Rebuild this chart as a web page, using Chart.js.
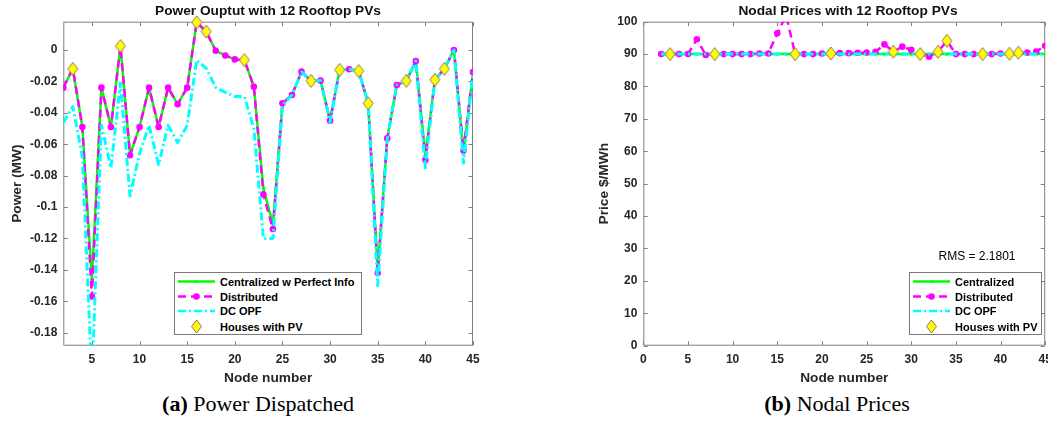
<!DOCTYPE html>
<html>
<head>
<meta charset="utf-8">
<script src="https://cdn.jsdelivr.net/npm/chart.js@4.4.1/dist/chart.umd.min.js"></script>
<style>
  html, body { margin: 0; padding: 0; width: 1048px; height: 425px; overflow: hidden; background: #fff; }
  canvas { position: absolute; top: 0; }
  .ttl { position: absolute; top: 3px; font: bold 13.7px "Liberation Sans", Arial, sans-serif; color: #111; white-space: nowrap; transform: translateX(-50%); line-height: 16px; }
  .cap { position: absolute; top: 391px; font: 22px "Liberation Serif", "Times New Roman", serif; color: #000; white-space: nowrap; transform: translateX(-50%); line-height: 26px; }
  .legend { position: absolute; box-sizing: border-box; border: 1px solid #7a7a7a; background: #fff; }
  .legend span { position: absolute; font: bold 11px "Liberation Sans", Arial, sans-serif; color: #000; white-space: nowrap; line-height: 14px; }
  .rms { position: absolute; font: 12px "Liberation Sans", Arial, sans-serif; color: #000; white-space: nowrap; transform: translate(-50%, -50%); line-height: 14px; }
</style>
</head>
<body>
<canvas id="c1" width="490" height="390" style="left:0px"></canvas>
<canvas id="c2" width="480" height="390" style="left:590px"></canvas>
<div class="ttl" style="left:268px">Power Ouptut with 12 Rooftop PVs</div>
<div class="ttl" style="left:848px">Nodal Prices with 12 Rooftop PVs</div>
<div class="rms" style="left:977px;top:256px">RMS = 2.1801</div>
<div class="cap" style="left:258px"><b>(a)</b> Power Dispatched</div>
<div class="cap" style="left:837px"><b>(b)</b> Nodal Prices</div>
<script>
// ---------------- data ----------------
const nodes = [2,3,4,5,6,7,8,9,10,11,12,13,14,15,16,17,18,19,20,21,22,23,24,25,26,27,28,29,30,31,32,33,34,35,36,37,38,39,40,41,42,43,44,45];

const powerCentral = [-0.024,-0.012,-0.049,-0.146,-0.024,-0.049,0.0025,-0.067,-0.049,-0.024,-0.049,-0.024,-0.0345,-0.024,0.0176,0.0117,-0.0005,-0.0035,-0.006,-0.0064,-0.0234,-0.088,-0.111,-0.034,-0.0287,-0.0138,-0.0197,-0.0195,-0.045,-0.0127,-0.0123,-0.0134,-0.034,-0.140,-0.0563,-0.0223,-0.0197,-0.007,-0.067,-0.019,-0.012,0.0,-0.066,-0.014];
const powerDistributed = [-0.024,-0.012,-0.049,-0.157,-0.024,-0.049,0.0025,-0.067,-0.049,-0.024,-0.049,-0.024,-0.0345,-0.024,0.0176,0.0117,-0.0005,-0.0035,-0.006,-0.0064,-0.0234,-0.092,-0.114,-0.034,-0.0287,-0.0138,-0.0197,-0.0195,-0.045,-0.0127,-0.0123,-0.0134,-0.034,-0.142,-0.0563,-0.0223,-0.0197,-0.007,-0.070,-0.019,-0.012,0.0,-0.064,-0.014];
const powerDcOpf = [-0.0465,-0.036,-0.068,-0.21,-0.048,-0.075,-0.021,-0.093,-0.066,-0.048,-0.073,-0.048,-0.059,-0.048,-0.0064,-0.0117,-0.0238,-0.027,-0.0297,-0.0297,-0.05,-0.12,-0.12,-0.035,-0.0287,-0.014,-0.0197,-0.0195,-0.046,-0.0127,-0.0123,-0.0134,-0.034,-0.150,-0.057,-0.0223,-0.0197,-0.007,-0.075,-0.019,-0.012,0.0,-0.072,-0.014];

const pvNodes = [3,8,16,17,21,28,31,33,34,38,41,42];
const pvPower = [-0.012,0.0025,0.0176,0.0117,-0.0064,-0.0197,-0.0127,-0.0134,-0.034,-0.0197,-0.019,-0.012];

const priceCentral = [90,90,90,90,90,90,90,90,90,90,90,90,90,90,90,90,90,90,90,90,90,90,90,90,90,90,90,90,90,90,90,90,90,90,90,90,90,90,90,90,90,90,90,90];
const priceDistributed = [90,90,90,90,94.6,89.7,90,90,90,90,90,90.2,90.2,96.4,102,90,90,90,90.2,90.2,90.3,90.3,90.4,90.5,90.7,93.0,90.75,92.3,91.3,90,89.2,90.7,94.1,90,90,90,90,90,90.2,90.1,90.4,90.5,90.8,92.6];
const priceDcOpf = [90,90,90,90,90,90,90,90,90,90,90,90,90,90,90,90,90,90,90,90,90,90,90,90,90,90,90,90,90,90,90,90,90,90,90,90,90,90,90,90,90,90,90,90];
const pvPrice = [90,90,102,90,90.2,90.75,90,90.7,94.1,90,90.1,90.4];

const powerXTicks = [5,10,15,20,25,30,35,40,45];
const powerYTicks = [-0.18,-0.16,-0.14,-0.12,-0.1,-0.08,-0.06,-0.04,-0.02,0];
const powerYTickLabels = ['-0.18','-0.16','-0.14','-0.12','-0.1','-0.08','-0.06','-0.04','-0.02','0'];
const priceXTicks = [0,5,10,15,20,25,30,35,40,45];
const priceYTicks = [0,10,20,30,40,50,60,70,80,90,100];
const priceYTickLabels = ['0','10','20','30','40','50','60','70','80','90','100'];

const legendLeftLabels = ['Centralized w Perfect Info','Distributed','DC OPF','Houses with PV'];
const legendRightLabels = ['Centralized','Distributed','DC OPF','Houses with PV'];

// ---------------- styling ----------------
const FONT = '"Liberation Sans", Arial, Helvetica, sans-serif';
const GREEN = '#00ff00', MAGENTA = '#ff00ff', CYAN = '#00ffff', YELLOW = '#ffff00', EDGE = '#9a6f60';
const AXIS = '#808080', TXT = '#262626';

function diamondCanvas() {
  const c = document.createElement('canvas');
  c.width = 12; c.height = 15;
  const g = c.getContext('2d');
  g.beginPath();
  g.moveTo(6, 1); g.lineTo(11, 7.5); g.lineTo(6, 14); g.lineTo(1, 7.5); g.closePath();
  g.fillStyle = YELLOW; g.fill();
  g.strokeStyle = EDGE; g.lineWidth = 1; g.stroke();
  return c;
}
const DIAMOND = diamondCanvas();

const matlabAxes = {
  id: 'matlabAxes',
  beforeDatasetsDraw(chart) {
    const { ctx, chartArea: a, scales: { x, y } } = chart;
    const L = a.left + 0.5, R = a.right - 0.5, T = a.top + 0.5, B = a.bottom - 0.5;
    ctx.save();
    ctx.strokeStyle = AXIS; ctx.lineWidth = 1;
    ctx.strokeRect(L, T, R - L, B - T);
    ctx.beginPath();
    const tl = 4;
    x.ticks.forEach(t => {
      const px = Math.round(x.getPixelForValue(t.value)) + 0.5;
      ctx.moveTo(px, B); ctx.lineTo(px, B - tl);
      ctx.moveTo(px, T); ctx.lineTo(px, T + tl);
    });
    y.ticks.forEach(t => {
      const py = Math.round(y.getPixelForValue(t.value)) + 0.5;
      ctx.moveTo(L, py); ctx.lineTo(L + tl, py);
      ctx.moveTo(R, py); ctx.lineTo(R - tl, py);
    });
    ctx.stroke();
    ctx.restore();
  }
};

function pts(xs, ys) { return xs.map((v, i) => ({ x: v, y: ys[i] })); }

function makeChart(id, cfg) {
  const tickFont = { family: FONT, size: 12, weight: 'bold' };
  const titleFont = { family: FONT, size: 13.7, weight: 'bold' };
  return new Chart(document.getElementById(id), {
    type: 'line',
    data: {
      datasets: [
        { label: 'Houses with PV', data: pts(cfg.pvX, cfg.pvY), showLine: false, pointStyle: DIAMOND,
          pointRadius: 6, pointHoverRadius: 6, borderWidth: 1, order: 0, clip: cfg.pvClip },
        { label: 'DC OPF', data: pts(nodes, cfg.dc), borderColor: CYAN, borderWidth: 3, borderDash: [8, 3, 2, 3],
          pointRadius: 0, order: 1, borderJoinStyle: 'round', clip: 0 },
        { label: 'Distributed', data: pts(nodes, cfg.dist), borderColor: MAGENTA, borderWidth: 2.5, borderDash: [8, 5],
          pointRadius: 3.3, pointBackgroundColor: MAGENTA, pointBorderColor: MAGENTA, pointBorderWidth: 0, order: 2,
          borderJoinStyle: 'round', clip: 0 },
        { label: 'Centralized', data: pts(nodes, cfg.cent), borderColor: GREEN, borderWidth: 2.5,
          pointRadius: 1.6, pointBackgroundColor: GREEN, pointBorderColor: GREEN, pointBorderWidth: 0, order: 3,
          borderJoinStyle: 'round', clip: 0 }
      ]
    },
    options: {
      responsive: false,
      animation: false,
      events: [],
      layout: { padding: cfg.padding },
      elements: { line: { tension: 0 } },
      plugins: { legend: { display: false }, tooltip: { enabled: false }, title: { display: false } },
      scales: {
        x: {
          type: 'linear', position: 'bottom', min: cfg.xMin, max: cfg.xMax,
          grid: { display: false, drawTicks: false }, border: { display: false },
          afterBuildTicks: s => { s.ticks = cfg.xTicks.map(v => ({ value: v })); },
          afterFit: s => { s.height = 40.5; },
          ticks: { autoSkip: false, maxRotation: 0, minRotation: 0, padding: 7, color: TXT, font: tickFont,
                   callback: (v) => String(v) },
          title: { display: true, text: 'Node number', color: TXT, font: titleFont, padding: { top: 0, bottom: 0 } }
        },
        y: {
          type: 'linear', position: 'left', min: cfg.yMin, max: cfg.yMax,
          grid: { display: false, drawTicks: false }, border: { display: false },
          afterBuildTicks: s => { s.ticks = cfg.yTicks.map(v => ({ value: v })); },
          afterFit: s => { s.width = cfg.yWidth; },
          ticks: { autoSkip: false, padding: 6, color: TXT, font: tickFont,
                   callback: (v, i) => cfg.yLabels[i] },
          title: { display: true, text: cfg.yTitle, color: TXT, font: titleFont, padding: { top: cfg.yTitlePad, bottom: 0 } }
        }
      }
    },
    plugins: [matlabAxes]
  });
}

makeChart('c1', {
  cent: powerCentral, dist: powerDistributed, dc: powerDcOpf, pvX: pvNodes, pvY: pvPower, pvClip: false,
  xMin: 2, xMax: 45, yMin: -0.1883, yMax: 0.018,
  xTicks: powerXTicks, yTicks: powerYTicks, yLabels: powerYTickLabels,
  yTitle: 'Power (MW)', yTitlePad: 9.3, yWidth: 63.3,
  padding: { left: 0, top: 21.7, right: 17, bottom: 3.8 }
});

makeChart('c2', {
  cent: priceCentral, dist: priceDistributed, dc: priceDcOpf, pvX: pvNodes, pvY: pvPrice, pvClip: 0,
  xMin: 0, xMax: 45, yMin: 0, yMax: 100,
  xTicks: priceXTicks, yTicks: priceYTicks, yLabels: priceYTickLabels,
  yTitle: 'Price $/MWh', yTitlePad: 5.8, yWidth: 53.3,
  padding: { left: 0, top: 21.7, right: 24.8, bottom: 3.8 }
});

// ---------------- legends (HTML) ----------------
function makeLegend(left, top, width, height, labels) {
  const box = document.createElement('div');
  box.className = 'legend';
  Object.assign(box.style, { left: left + 'px', top: top + 'px', width: width + 'px', height: height + 'px' });
  const rows = [9.5, 24.5, 39, 54.5];
  const cx = 22.5;
  const svgNS = 'http://www.w3.org/2000/svg';
  const svg = document.createElementNS(svgNS, 'svg');
  svg.setAttribute('width', width); svg.setAttribute('height', height);
  svg.style.position = 'absolute'; svg.style.left = '-1px'; svg.style.top = '-1px';
  const add = (tag, attrs) => { const e = document.createElementNS(svgNS, tag); for (const k in attrs) e.setAttribute(k, attrs[k]); svg.appendChild(e); };
  add('line', { x1: 4, x2: 41, y1: rows[0], y2: rows[0], stroke: GREEN, 'stroke-width': 2.5 });
  add('circle', { cx: cx, cy: rows[0], r: 1.6, fill: GREEN });
  add('line', { x1: 4, x2: 41, y1: rows[1], y2: rows[1], stroke: MAGENTA, 'stroke-width': 2.5, 'stroke-dasharray': '8 5' });
  add('circle', { cx: cx, cy: rows[1], r: 3.3, fill: MAGENTA });
  add('line', { x1: 4, x2: 41, y1: rows[2], y2: rows[2], stroke: CYAN, 'stroke-width': 2.5, 'stroke-dasharray': '8 3 2 3' });
  add('polygon', { points: `${cx},${rows[3] - 6.5} ${cx + 5},${rows[3]} ${cx},${rows[3] + 6.5} ${cx - 5},${rows[3]}`, fill: YELLOW, stroke: EDGE, 'stroke-width': 1 });
  box.appendChild(svg);
  labels.forEach((t, i) => {
    const s = document.createElement('span');
    s.textContent = t;
    s.style.left = '45px';
    s.style.top = (rows[i] - 1 - 7) + 'px';
    box.appendChild(s);
  });
  document.body.appendChild(box);
}
makeLegend(174, 272, 188, 63, legendLeftLabels);
makeLegend(909, 272, 133, 63, legendRightLabels);
</script>
</body>
</html>
